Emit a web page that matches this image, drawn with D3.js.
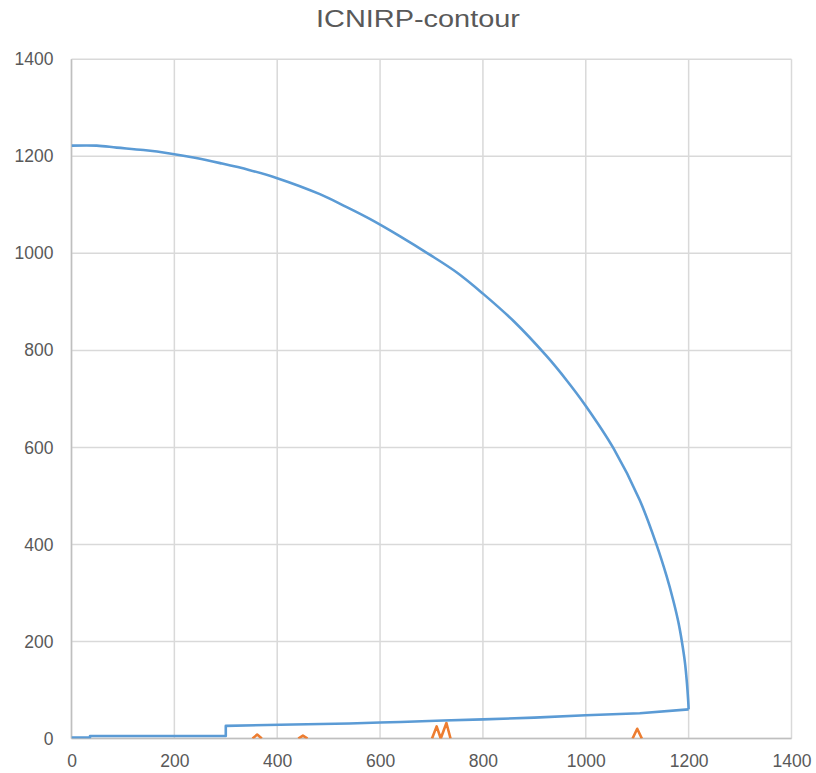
<!DOCTYPE html>
<html>
<head>
<meta charset="utf-8">
<script src="https://cdn.jsdelivr.net/npm/d3@7"></script>
<style>
  html, body { margin: 0; padding: 0; background: #fff; }
  svg { display: block; }
</style>
</head>
<body>
<svg id="chart" width="816" height="773"></svg>
<script>
// ---- data ----
const chartTitle = "ICNIRP-contour";
const xTicks = [0, 200, 400, 600, 800, 1000, 1200, 1400];
const yTicks = [0, 200, 400, 600, 800, 1000, 1200, 1400];

// blue contour series: upper arc (x, y)
const arcX = [0, 49, 88, 140, 191, 240, 289, 345, 400, 483, 530, 580, 639, 694, 750, 800, 860, 924, 963, 999, 1054, 1105, 1138, 1157, 1170, 1180, 1187, 1193, 1197, 1199, 1200];
const arcY = [1222, 1222, 1218, 1213, 1206, 1197, 1186, 1172, 1155, 1122, 1098, 1071, 1035, 999, 960, 917, 860, 788, 738, 687, 598, 491, 398, 335, 285, 240, 199, 155, 110, 80, 60];
// blue contour series: base line back to the origin (x, y)
const baseX = [1200, 1105, 1000, 900, 800, 723, 640, 600, 540, 431, 300, 300, 36, 36, 0];
const baseY = [60, 52, 48, 43, 39.5, 37, 34, 33, 31, 29, 26, 5, 5, 2, 2];

// orange series (null = gap)
const spikeX = [352, 361, 370, null, 441, 450, 459, null, 701, 710, 718, 729, 737, null, 1091, 1100, 1109];
const spikeY = [0, 8, 0, null, 0, 6, 0, null, 0, 25, 0, 32, 0, null, 0, 20, 0];

// ---- layout ----
const svg = d3.select("#chart");
const L = 71.5, R = 791.5, T = 59.3, B = 738.5;
const x = d3.scaleLinear().domain([0, 1400]).range([L, R]);
const y = d3.scaleLinear().domain([0, 1400]).range([B, T]);

const gridColor = "#d9d9d9";
const textColor = "#595959";
const font = "'Liberation Sans', Arial, sans-serif";

// title
svg.append("text")
  .attr("x", 418).attr("y", 26.5)
  .attr("text-anchor", "middle")
  .attr("font-family", font)
  .attr("font-size", 23)
  .attr("fill", textColor)
  .attr("textLength", 204)
  .attr("lengthAdjust", "spacingAndGlyphs")
  .text(chartTitle);

// gridlines
const grid = svg.append("g");
grid.selectAll("line.v").data(xTicks).enter().append("line")
  .attr("x1", d => x(d)).attr("x2", d => x(d))
  .attr("y1", T).attr("y2", B)
  .attr("stroke", gridColor).attr("stroke-width", 1.5);
grid.selectAll("line.h").data(yTicks).enter().append("line")
  .attr("x1", L).attr("x2", R)
  .attr("y1", d => y(d)).attr("y2", d => y(d))
  .attr("stroke", gridColor).attr("stroke-width", 1.5);

// axes lines
svg.append("line").attr("x1", L).attr("x2", L).attr("y1", T).attr("y2", B)
  .attr("stroke", "#bfbfbf").attr("stroke-width", 1.5);
svg.append("line").attr("x1", L).attr("x2", R).attr("y1", B).attr("y2", B)
  .attr("stroke", "#bfbfbf").attr("stroke-width", 1.5);

// axes labels via d3 axes
const xAxis = svg.append("g").attr("transform", `translate(0,${B})`)
  .call(d3.axisBottom(x).tickValues(xTicks).tickSize(0).tickPadding(16).tickFormat(d3.format("d")));
const yAxis = svg.append("g").attr("transform", `translate(${L},0)`)
  .call(d3.axisLeft(y).tickValues(yTicks).tickSize(0).tickPadding(18).tickFormat(d3.format("d")));
[xAxis, yAxis].forEach(a => {
  a.select(".domain").remove();
  a.selectAll("text").attr("font-family", font).attr("font-size", 17.5).attr("fill", textColor);
});

// clip
svg.append("clipPath").attr("id", "plotclip").append("rect")
  .attr("x", L).attr("y", T - 5).attr("width", R - L + 5).attr("height", B - T + 5);

const lineLinear = d3.line()
  .defined(d => d[1] != null)
  .x(d => x(d[0])).y(d => y(d[1]));
const lineSmooth = d3.line()
  .curve(d3.curveCatmullRom.alpha(0.5))
  .x(d => x(d[0])).y(d => y(d[1]));

const arc = arcX.map((v, i) => [v, arcY[i]]);
const base = baseX.map((v, i) => [v, baseY[i]]);
const spikes = spikeX.map((v, i) => [v, spikeY[i]]);

const plot = svg.append("g").attr("clip-path", "url(#plotclip)");
plot.append("path").datum(spikes)
  .attr("d", lineLinear).attr("fill", "none")
  .attr("stroke", "#ed7d31").attr("stroke-width", 2.6)
  .attr("stroke-linejoin", "round");
plot.append("path").datum(arc)
  .attr("d", lineSmooth).attr("fill", "none")
  .attr("stroke", "#5b9bd5").attr("stroke-width", 2.6)
  .attr("stroke-linejoin", "round");
plot.append("path").datum(base)
  .attr("d", lineLinear).attr("fill", "none")
  .attr("stroke", "#5b9bd5").attr("stroke-width", 2.6)
  .attr("stroke-linejoin", "round");
</script>
</body>
</html>
